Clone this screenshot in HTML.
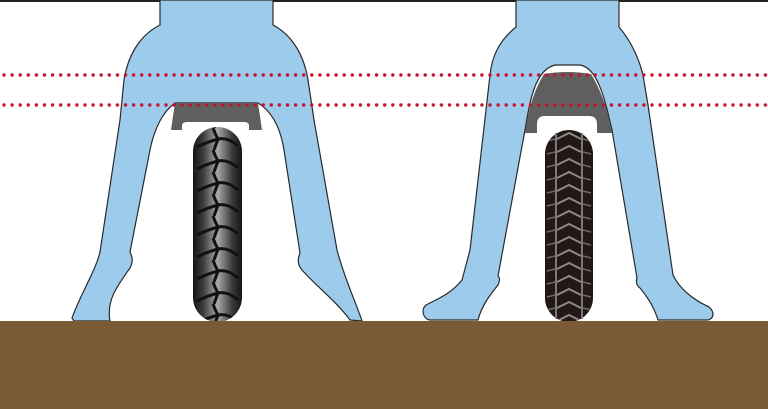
<!DOCTYPE html>
<html><head><meta charset="utf-8"><style>html,body{margin:0;padding:0;background:#fff}svg{display:block}</style></head>
<body>
<svg width="768" height="409" viewBox="0 0 768 409" xmlns="http://www.w3.org/2000/svg">
<defs>
<linearGradient id="tg" x1="0" x2="1" y1="0" y2="0">
<stop offset="0" stop-color="#151515"/><stop offset="0.2" stop-color="#3a3a3a"/><stop offset="0.5" stop-color="#a8a8a8"/><stop offset="0.8" stop-color="#3a3a3a"/><stop offset="1" stop-color="#151515"/>
</linearGradient>
<pattern id="lt" x="193" y="128" width="49" height="22" patternUnits="userSpaceOnUse">
<path d="M20,0 Q22,6 25,11 L21,22 M25,11 Q35,9 45,18 M25,11 Q14,14 4,19" stroke="#111" stroke-width="3" fill="none"/>
</pattern>
<pattern id="rt" x="545" y="130" width="48" height="13" patternUnits="userSpaceOnUse">
<path d="M12,9 L24,3 L36,9" stroke="#8a8a8a" stroke-width="2" fill="none"/>
<path d="M2,11 L10,9 M46,11 L38,9" stroke="#6a6a6a" stroke-width="1.5"/>
</pattern>
<pattern id="dots" x="0" y="0" width="8.1" height="10" patternUnits="userSpaceOnUse">
<circle cx="4" cy="5" r="1.7" fill="#c8102e"/>
</pattern>
</defs>
<rect x="0" y="0" width="768" height="2" fill="#222"/>
<path d="M160,0 L160,25 C140,35 128,55 124,80 L120,120 L100,252 C96,270 80,295 72,318 L74,321 L110,321 C106,300 118,285 130,268 C133,262 133,258 130,252 L150,150 C155,125 165,110 175,103 L258,103 C270,110 280,125 284,150 L300,253 C297,260 298,265 302,270 C315,285 335,300 350,320 L362,321 C355,300 345,280 337,250 L314,120 L308,80 C304,55 292,35 273,25 L273,0 Z" fill="#9dcbec" stroke="#2a2a2a" stroke-width="1.2"/>
<path d="M175,103 L258,103 L262,130 L249,130 L249,126 Q249,122 244,122 L187,122 Q182,122 182,126 L182,130 L171,130 Z" fill="#5f5f5f"/>
<rect x="193" y="127" width="49" height="195" rx="24.5" fill="url(#tg)"/>
<rect x="193" y="127" width="49" height="195" rx="24.5" fill="url(#lt)"/>
<path d="M516,0 L516,27 C500,40 492,55 490,75 L470,250 L462,280 C450,295 435,300 426,305 C420,310 424,320 430,320 L478,320 C482,305 490,295 498,285 C500,280 500,278 498,276 L525,130 C530,100 535,70 555,65 L580,65 C598,68 605,100 612,130 L637,278 C636,282 636,285 640,288 C650,300 655,310 658,320 L708,320 C716,318 714,308 705,305 C695,300 680,290 673,275 L648,105 L643,75 C638,55 630,40 619,27 L619,0 Z" fill="#9dcbec" stroke="#2a2a2a" stroke-width="1.2"/>
<path d="M544,74 Q567,70 591,74 C601,90 608,110 612,133 L597,133 L597,124 Q597,116 589,116 L545,116 Q537,116 537,124 L537,133 L525,133 C528,110 534,90 544,74 Z" fill="#5f5f5f"/>
<rect x="545" y="130" width="48" height="192" rx="24" fill="#231815"/>
<rect x="545" y="130" width="48" height="192" rx="24" fill="url(#rt)"/>
<rect x="555" y="133" width="2" height="186" fill="#7a7a7a"/>
<rect x="581" y="133" width="2" height="186" fill="#7a7a7a"/>
<rect x="0" y="70" width="768" height="10" fill="url(#dots)"/>
<rect x="0" y="99" width="768" height="10" fill="url(#dots)"/>
<rect x="0" y="321" width="768" height="88" fill="#7b5a36"/>
</svg>
</body></html>
